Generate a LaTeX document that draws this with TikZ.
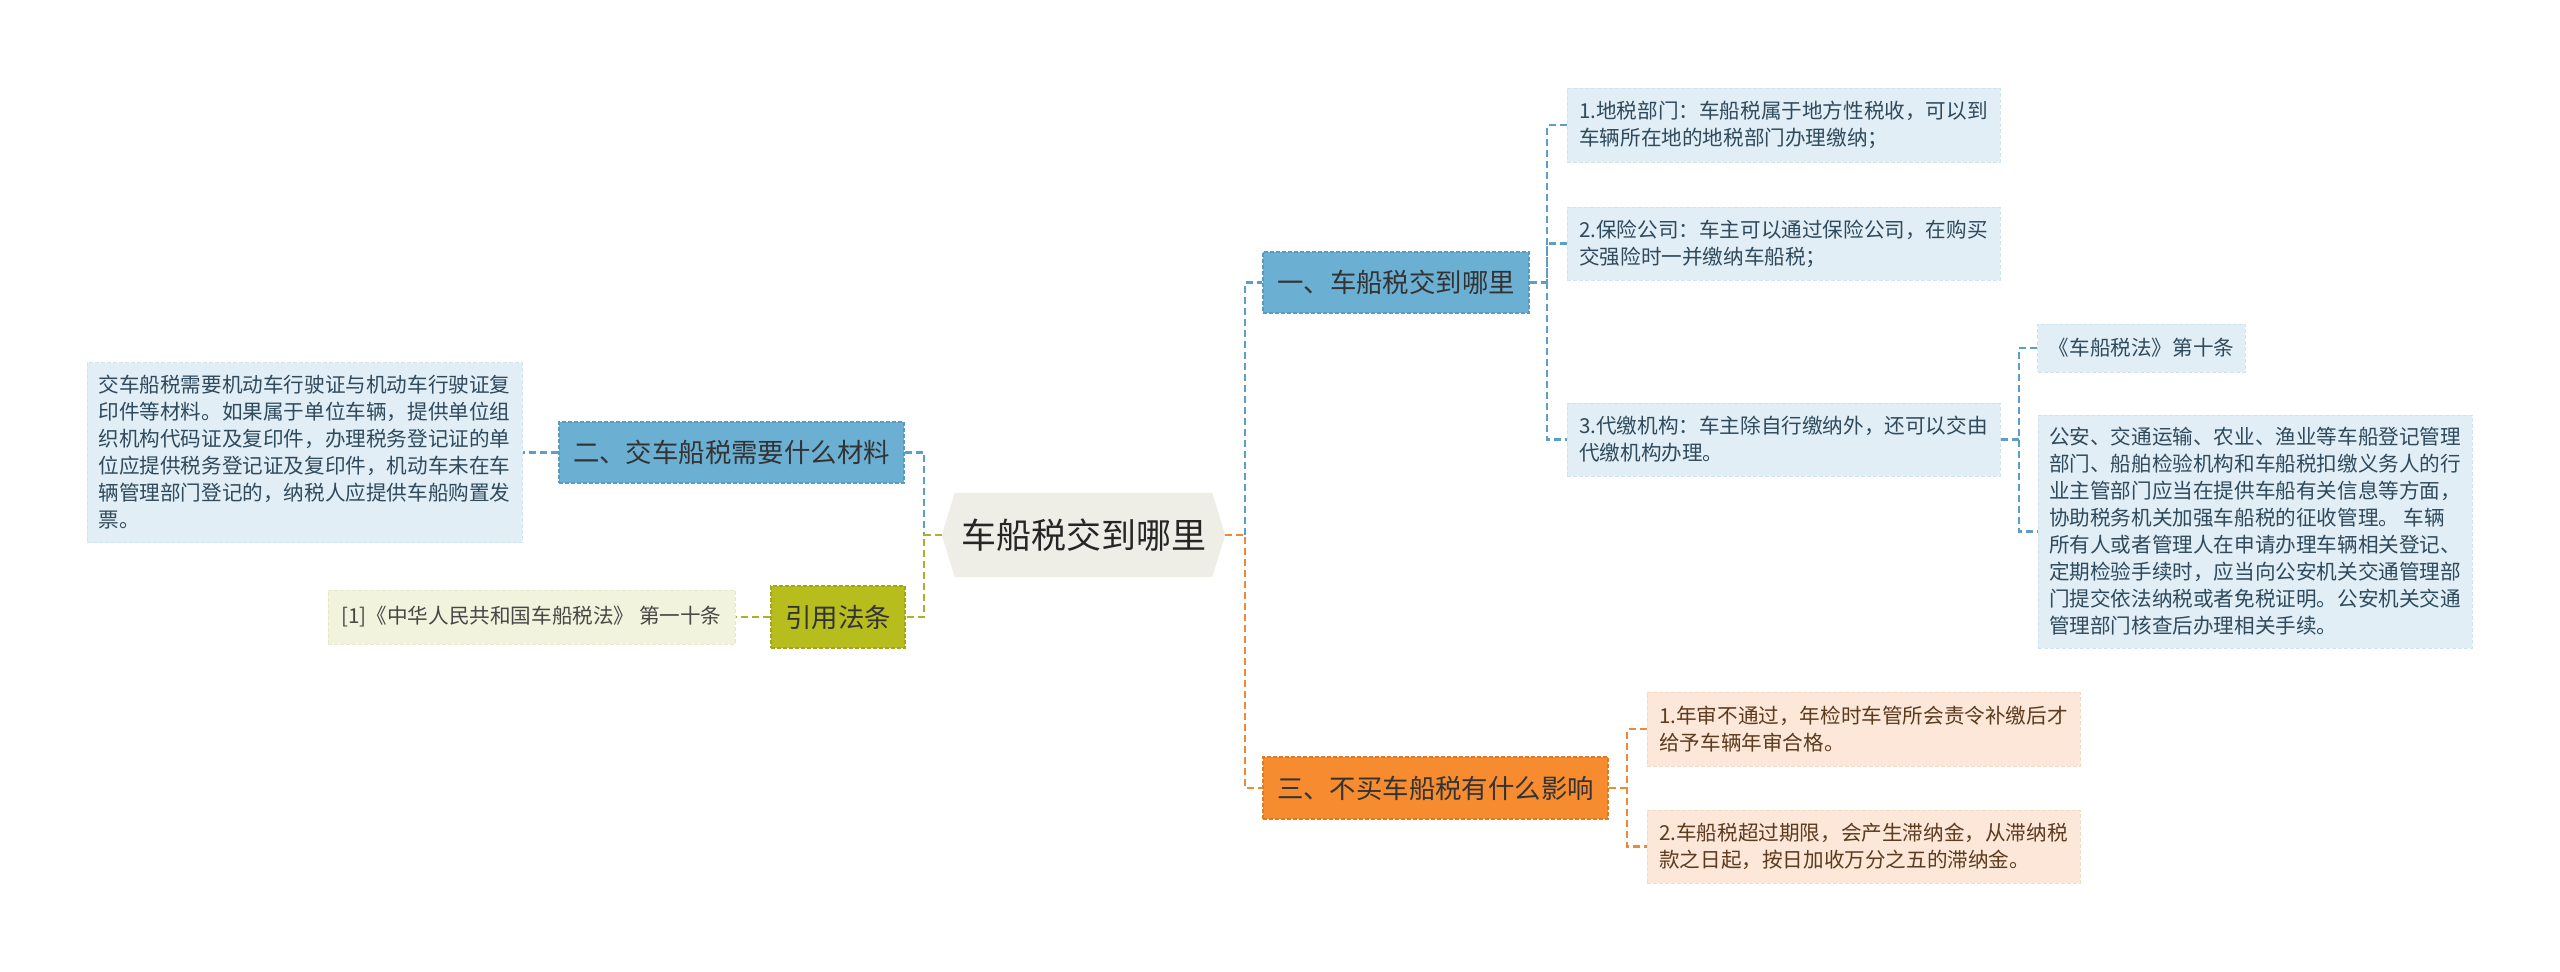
\documentclass[tikz,border=0pt]{standalone}
\usepackage{fontspec}
\setmainfont{Noto Sans CJK SC}
\usetikzlibrary{backgrounds}
\definecolor{rootfill}{HTML}{EEEEE6}
\definecolor{bluebr}{HTML}{6BAFD2}
\definecolor{bluebrdraw}{HTML}{5A9CC0}
\definecolor{blueleaf}{HTML}{E1EEF6}
\definecolor{blueleafdraw}{HTML}{D0E4F0}
\definecolor{blueln}{HTML}{5D9EC6}
\definecolor{bluetext}{HTML}{2E4A5C}
\definecolor{orangebr}{HTML}{F68B2F}
\definecolor{orangebrdraw}{HTML}{E27A20}
\definecolor{orangeleaf}{HTML}{FCE7D8}
\definecolor{orangeleafdraw}{HTML}{F6D9C4}
\definecolor{orangeln}{HTML}{EE8A35}
\definecolor{orangetext}{HTML}{5C3B1E}
\definecolor{greenbr}{HTML}{B6BD1C}
\definecolor{greenbrdraw}{HTML}{A0A812}
\definecolor{greenleaf}{HTML}{F2F3DC}
\definecolor{greenleafdraw}{HTML}{E6E8C8}
\definecolor{greenln}{HTML}{A9B326}
\definecolor{darktext}{HTML}{333333}
\newcommand\myleaffont{\fontsize{20.6}{27}\selectfont}
\newcommand\mybranchfont{\fontsize{26.4}{32}\selectfont}
\newcommand\myrootfont{\fontsize{35}{42}\selectfont}
\begin{document}
\begin{tikzpicture}[x=1pt,y=-1pt,
  branchbox/.style={rectangle, inner sep=0pt, align=center, font=\mybranchfont,
    text=darktext, line width=1.3pt, dash pattern=on 4pt off 2pt},
  leafbox/.style={rectangle, inner xsep=11pt, inner ysep=0pt, align=left,
    font=\myleaffont, line width=1pt, dash pattern=on 4pt off 2pt},
  bluebranch/.style={branchbox, fill=bluebr, draw=bluebrdraw},
  orangebranch/.style={branchbox, fill=orangebr, draw=orangebrdraw},
  greenbranch/.style={branchbox, fill=greenbr, draw=greenbrdraw},
  blueleafbox/.style={leafbox, fill=blueleaf, draw=blueleafdraw, text=bluetext},
  orangeleafbox/.style={leafbox, fill=orangeleaf, draw=orangeleafdraw, text=orangetext},
  greenleafbox/.style={leafbox, fill=greenleaf, draw=greenleafdraw, text=darktext!90},
  conn/.style={line width=2.2pt, dash pattern=on 7pt off 4pt},
  bline/.style={conn, draw=blueln},
  oline/.style={conn, draw=orangeln},
  gline/.style={conn, draw=greenln}
]
\useasboundingbox (0,0) rectangle (2560,972);

% root
\node[inner sep=0pt, minimum width=283pt, minimum height=84pt, font=\myrootfont, text=black!85] (root) at (1083.5,535) {车船税交到哪里};
\begin{scope}[on background layer]
  \fill[white] (0,0) rectangle (2560,972);
  \fill[rootfill] (root.west) -- ([xshift=13pt]root.north west) -- ([xshift=-13pt]root.north east)
    -- (root.east) -- ([xshift=-13pt]root.south east) -- ([xshift=13pt]root.south west) -- cycle;
\end{scope}

% branches
\node[bluebranch, minimum width=266pt, minimum height=61pt] (b1) at (1396,282.5) {一、车船税交到哪里};
\node[bluebranch, minimum width=345pt, minimum height=61pt] (b2) at (731.5,452.5) {二、交车船税需要什么材料};
\node[greenbranch, minimum width=134pt, minimum height=62pt] (law) at (838,617) {引用法条};
\node[orangebranch, minimum width=345pt, minimum height=62pt] (b3) at (1435.5,788) {三、不买车船税有什么影响};

% blue leaves
\node[blueleafbox, minimum width=433pt, minimum height=74pt] (L1) at (1783.5,125) {1.地税部门：车船税属于地方性税收，可以到\\车辆所在地的地税部门办理缴纳；};
\node[blueleafbox, minimum width=433pt, minimum height=73pt] (L2) at (1783.5,243.5) {2.保险公司：车主可以通过保险公司，在购买\\交强险时一并缴纳车船税；};
\node[blueleafbox, minimum width=433pt, minimum height=73pt] (L3) at (1783.5,439.5) {3.代缴机构：车主除自行缴纳外，还可以交由\\代缴机构办理。};
\node[blueleafbox, minimum width=207pt, minimum height=48pt] (S1) at (2141.5,348) {《车船税法》第十条};
\node[blueleafbox, minimum width=434pt, minimum height=233pt] (S2) at (2255,531.5) {公安、交通运输、农业、渔业等车船登记管理\\部门、船舶检验机构和车船税扣缴义务人的行\\业主管部门应当在提供车船有关信息等方面，\\协助税务机关加强车船税的征收管理。 车辆\\所有人或者管理人在申请办理车辆相关登记、\\定期检验手续时，应当向公安机关交通管理部\\门提交依法纳税或者免税证明。公安机关交通\\管理部门核查后办理相关手续。};
\node[blueleafbox, minimum width=435pt, minimum height=180pt] (LL) at (304.5,452.5) {交车船税需要机动车行驶证与机动车行驶证复\\印件等材料。如果属于单位车辆，提供单位组\\织机构代码证及复印件，办理税务登记证的单\\位应提供税务登记证及复印件，机动车未在车\\辆管理部门登记的，纳税人应提供车船购置发\\票。};

% green leaf
\node[greenleafbox, minimum width=407pt, minimum height=54pt] (LW) at (531.5,617) {[1]《中华人民共和国车船税法》 第一十条};

% orange leaves
\node[orangeleafbox, minimum width=433pt, minimum height=74pt] (O1) at (1863.5,729) {1.年审不通过，年检时车管所会责令补缴后才\\给予车辆年审合格。};
\node[orangeleafbox, minimum width=433pt, minimum height=73pt] (O2) at (1863.5,846.5) {2.车船税超过期限，会产生滞纳金，从滞纳税\\款之日起，按日加收万分之五的滞纳金。};

% junction coordinates
\coordinate (tL) at (924,535);
\coordinate (tR) at (1245,535);
\coordinate (j1) at (1547,282.5);
\coordinate (j3) at (2019,439.5);
\coordinate (j4) at (1627,788);

% root connectors
\draw[bline] (b2.east) -| (tL);
\draw[gline] (root.west) -- (tL) |- (law.east);
\draw[bline] (tR) |- (b1.west);
\draw[oline] (root.east) -- (tR) |- (b3.west);

% branch 1 children
\draw[bline] (b1.east) -- (j1);
\draw[bline] (L1.west) -| (j1) |- (L3.west);
\draw[bline] (L2.west) -| (j1);
\draw[bline] (L3.east) -- (j3);
\draw[bline] (S1.west) -| (j3) |- (S2.west);

% branch 2 child
\draw[bline] (b2.west) -- (LL.east);

% law child
\draw[gline] (law.west) -- (LW.east);

% branch 3 children
\draw[oline] (b3.east) -- (j4);
\draw[oline] (O1.west) -| (j4) |- (O2.west);
\end{tikzpicture}
\end{document}
